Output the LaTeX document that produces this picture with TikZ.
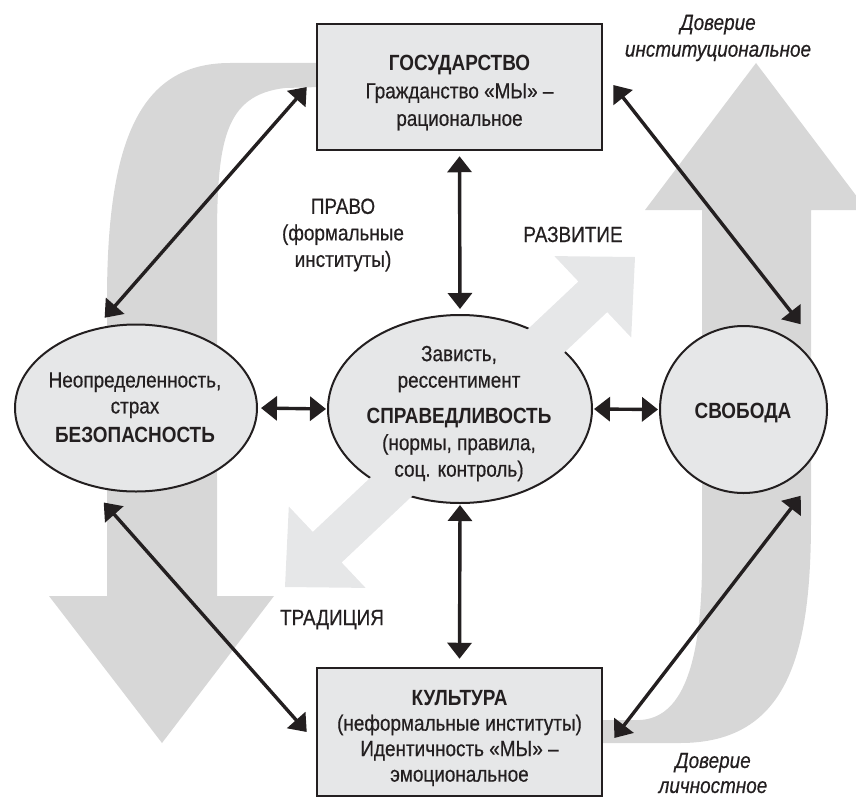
\documentclass[tikz,border=0pt]{standalone}
\usepackage{fontspec}
\setmainfont{Liberation Sans}[FakeStretch=0.86, UprightFeatures={FakeBold=0.5}, ItalicFeatures={FakeBold=0.5}]
\usetikzlibrary{arrows.meta,shapes.geometric}
\definecolor{boxfill}{HTML}{E6E7E8}
\definecolor{bandgray}{HTML}{D7D7D7}
\definecolor{ink}{HTML}{231F20}
\tikzset{
  txt/.style={font=\fontsize{22}{26}\selectfont, text=ink, align=center, inner sep=0pt},
  boxnode/.style={draw=ink, line width=2.5pt, fill=boxfill, rectangle, minimum width=285pt, inner sep=0pt},
  ellnode/.style={draw=ink, line width=2pt, fill=boxfill, ellipse, inner sep=0pt},
  dbl/.style={draw=ink, line width=3.4pt, >={Triangle[length=16pt,width=24pt]}, <->},
  band/.style={fill=bandgray},
  diagband/.style={fill=boxfill},
}
\begin{document}
\begin{tikzpicture}[x=1pt,y=-1pt]
\useasboundingbox (0,0) rectangle (856,800);
\clip (0,0) rectangle (856,800);
% big grey bands
\fill[band] (320,63) -- (230,63) .. controls (140,63) and (107,140) .. (107,300)
  -- (107,596) -- (49,596) -- (162,743) -- (274,596) -- (217,596) -- (217,240)
  .. controls (217,140) and (225,95) .. (285,88) -- (320,87) -- cycle;
\fill[band] (702,210) -- (645,210) -- (756,63) -- (867,210) -- (811,210) -- (811,520)
  .. controls (811,650) and (790,743) .. (680,743) -- (595,743) -- (595,720) -- (640,720)
  .. controls (680,718) and (702,670) .. (702,560) -- cycle;
% boxes and ellipses
\node[boxnode, minimum height=126pt] (gos) at (459.5,87) {};
\node[boxnode, minimum height=128pt] (kul) at (459.5,732) {};
\node[ellnode, minimum width=242pt, minimum height=167pt] (bez) at (136,408) {};
\node[ellnode, minimum width=264pt, minimum height=188pt] (spr) at (460,409) {};
\node[ellnode, circle, minimum size=167pt] (svo) at (743.5,409.5) {};
% light diagonal double arrow
\fill[diagband] (635,257) -- (631.2,337.5) -- (607.2,312.1) -- (341.6,562.5) -- (365.6,587.9)
  -- (285,587) -- (288.8,506.5) -- (312.8,531.9) -- (578.4,281.5) -- (554.4,256.1) -- cycle;
% texts
\node[txt, font=\fontsize{22}{27.5}\selectfont] (gost) at (459.5,93) {\textbf{ГОСУДАРСТВО}\\Гражданство «МЫ» –\\рациональное};
\node[txt, font=\fontsize{22}{25.5}\selectfont] (kult) at (459.5,738) {\textbf{КУЛЬТУРА}\\(неформальные институты)\\Идентичность «МЫ» –\\эмоциональное};
\node[txt] (bezt) at (135,407.5) {Неопределенность,\\страх\\[3pt]\textbf{БЕЗОПАСНОСТЬ}};
\node[txt, font=\fontsize{22}{26.5}\selectfont] (sprt) at (459,413.5) {Зависть,\\рессентимент\\[9.5pt]\textbf{СПРАВЕДЛИВОСТЬ}\\(нормы, правила,\\соц. контроль)};
\node[txt, anchor=base] (svot) at (743,418) {\textbf{СВОБОДА}};
\node[txt, font=\fontsize{22}{26.5}\selectfont] (pravo) at (343,235) {ПРАВО\\(формальные\\институты)};
\node[txt, anchor=base] (razv) at (573,242) {РАЗВИТИЕ};
\node[txt, anchor=base] (trad) at (332,625) {ТРАДИЦИЯ};
\node[txt, font=\fontsize{22}{26.7}\selectfont\itshape] (dov1) at (718,38) {Доверие\\институциональное};
\node[txt, font=\fontsize{22}{25}\selectfont\itshape] (dov2) at (713,773) {Доверие\\личностное};
% black double arrows
\draw[dbl, shorten <=5pt, shorten >=5pt] (gos.south) -- (spr.north);
\draw[dbl, shorten <=1pt, shorten >=8pt] (spr.south) -- (kul.north);
\draw[dbl, shorten <=3pt, shorten >=1pt] (bez.east) -- (spr.west);
\draw[dbl, shorten <=1pt, shorten >=1pt] (spr.east) -- (svo.west);
\draw[dbl, shorten >=14pt] ([xshift=-9pt]gos.west) -- (bez.117);
\draw[dbl, shorten >=22pt] ([xshift=-9pt]kul.west) -- (bez.239);
\draw[dbl] ([xshift=10pt,yshift=2pt]gos.east) -- ([xshift=-2.5pt,yshift=25.5pt]svo.45);
\draw[dbl] ([xshift=11pt,yshift=-6pt]kul.east) -- ([xshift=-2.5pt,yshift=-26.5pt]svo.-45);
\end{tikzpicture}
\end{document}
